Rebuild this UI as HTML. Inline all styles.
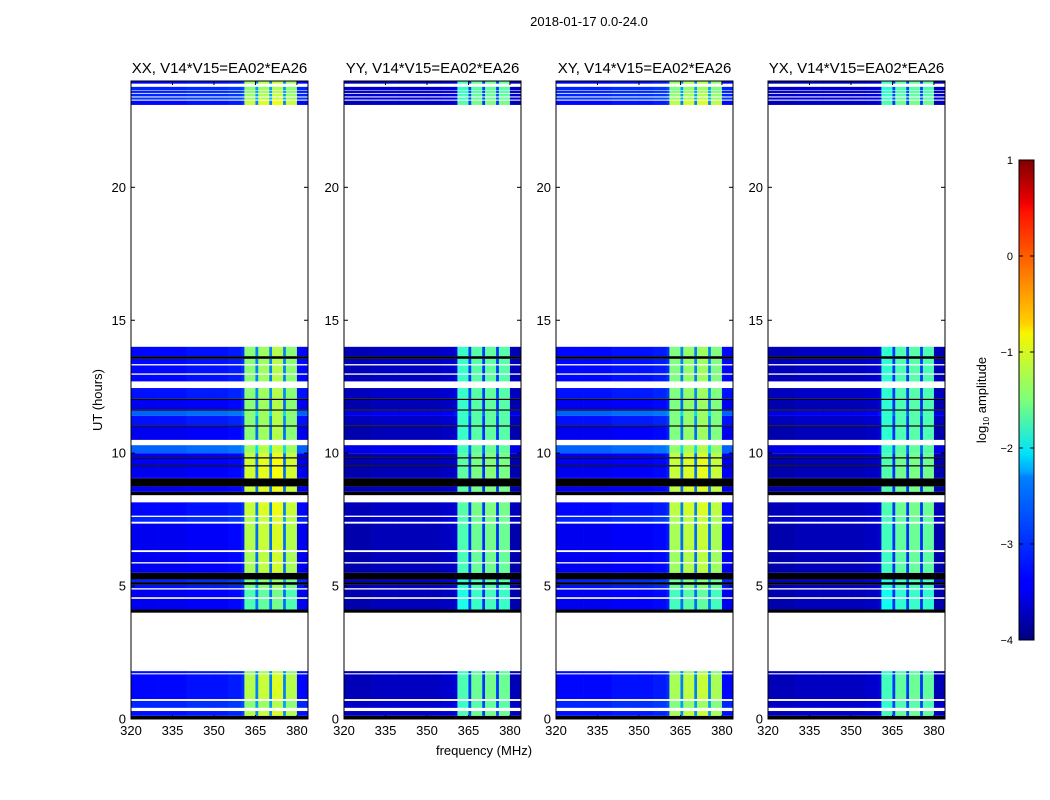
<!DOCTYPE html>
<html><head><meta charset="utf-8">
<style>
body{margin:0;background:#fff;}
svg{display:block;font-family:"Liberation Sans",sans-serif;}
</style></head>
<body>
<svg id="fig" width="1050" height="800" viewBox="0 0 1050 800" xmlns="http://www.w3.org/2000/svg">
<rect width="1050" height="800" fill="#fff"/>
<text x="589" y="26" font-size="13" text-anchor="middle">2018-01-17 0.0-24.0</text>
<g id="panels"></g>
<text x="102" y="400" font-size="13" text-anchor="middle" transform="rotate(-90 102 400)">UT (hours)</text>
<text x="484" y="755" font-size="13" text-anchor="middle">frequency (MHz)</text>
<defs>
<linearGradient id="jet" x1="0" y1="1" x2="0" y2="0">
<stop offset="0" stop-color="#00007f"/>
<stop offset="0.11" stop-color="#0000ff"/>
<stop offset="0.125" stop-color="#0000ff"/>
<stop offset="0.34" stop-color="#0080ff"/>
<stop offset="0.35" stop-color="#00a4ff"/>
<stop offset="0.39" stop-color="#00e4f8"/>
<stop offset="0.5" stop-color="#7dff7a"/>
<stop offset="0.64" stop-color="#f8f500"/>
<stop offset="0.66" stop-color="#ffd000"/>
<stop offset="0.89" stop-color="#ff1300"/>
<stop offset="0.91" stop-color="#f00000"/>
<stop offset="1" stop-color="#7f0000"/>
</linearGradient>
</defs>
<g>
<rect x="1019" y="160" width="15" height="480" fill="url(#jet)" stroke="#000" stroke-width="1"/>
<g id="cbticks" font-size="11" text-anchor="end"></g>
<text x="986" y="400" font-size="13" text-anchor="middle" transform="rotate(-90 986 400)">log<tspan font-size="8" dy="3">10</tspan><tspan dy="-3"> amplitude</tspan></text>
</g>
</svg>
<script>
// ---- data ----
const panelTitles = ["XX, V14*V15=EA02*EA26","YY, V14*V15=EA02*EA26","XY, V14*V15=EA02*EA26","YX, V14*V15=EA02*EA26"];
const channelStart = [320,330,340,350,355,360,361,365,366,370,371,375,376,380];
const channelEnd   = [330,340,350,355,360,361,365,366,370,371,375,376,380,384];
const specXX = [-3.5,-3.5,-3.45,-3.45,-3.4,-3.3,-1.45,-2.9,-1.35,-2.9,-1.25,-2.9,-1.45,-3.5];
const specYY = [-3.8,-3.75,-3.75,-3.75,-3.7,-3.6,-1.85,-3.2,-1.7,-3.2,-1.65,-3.2,-1.7,-3.8];
const specXY = [-3.5,-3.5,-3.45,-3.45,-3.4,-3.3,-1.5,-2.9,-1.4,-2.9,-1.35,-2.9,-1.5,-3.5];
const specYX = [-3.8,-3.75,-3.75,-3.75,-3.7,-3.6,-1.9,-3.2,-1.75,-3.2,-1.7,-3.2,-1.75,-3.8];
const spectra = [specXX,specYY,specXY,specYX];
// time segments: start hour, end hour, kind (d=data,f=flagged black), bright offset, background offset
const segStart = [0.0,0.12,0.42,0.75,1.72, 4.0,4.12,4.58,4.92,5.05,5.15,5.25,5.5,5.9,6.35,7.42,7.65,8.42,8.55,8.75,9.05,9.1,9.5,9.55,9.8,9.85,10.0,10.5,11.0,11.05,11.4,11.6,11.65,12.0,12.05,12.7,13.0,13.35,13.55,13.65, 23.1,23.3,23.42,23.55,23.66,23.9];
const segEnd   = [0.12,0.3,0.68,1.68,1.8, 4.12,4.52,4.87,5.05,5.15,5.25,5.5,5.85,6.28,7.35,7.6,8.15,8.55,8.75,9.05,9.1,9.5,9.55,9.8,9.85,10.0,10.3,11.0,11.05,11.4,11.6,11.65,12.0,12.05,12.45,12.95,13.3,13.55,13.65,14.0, 23.26,23.38,23.52,23.64,23.78,24.0];
const segKind  = ["f","d","d","d","d", "f","d","d","d","f","d","f","d","d","d","d","d","f","d","f","d","d","f","d","f","d","d","d","f","d","d","f","d","f","d","d","d","d","f","d", "d","d","d","d","d","d"];
const segBright= [0,0.2,0.0,0.2,0, 0,-0.3,-0.3,-0.1,0,-0.1,0,0.15,0.15,0.2,0.2,0.3,0,0.3,0,0.35,0.35,0,0.35,0,0.3,0.1,0,0,0,0,0,0,0,0,0,0,0,0,0, 0.3,0.1,0.1,0,0,0.1];
const segBg    = [0,0.2,0.3,0.15,0.2, 0,0.05,0.05,0.2,0,0.3,0,0.05,0.05,0.05,0.3,0.15,0,0.05,0,0.05,0.05,0,0.05,0,0.05,0.6,0.05,0,0.2,0.6,0,0.05,0,0.2,0.15,0.15,0.15,0,0.15, 0.15,0.4,0.3,0.3,0.3,0.15];
const yTicks = [0,5,10,15,20];
const xTicks = [320,335,350,365,380];
const cbTicks = [1,0,-1,-2,-3,-4];
// ---- geometry ----
const lefts=[131,344,556,768], W=177, T=81, B=719;
const NS="http://www.w3.org/2000/svg";
function yS(h){return B-(h/24)*(B-T);}
function xS(f,l){return l+(f-320)*W/64;}
function jet(v){
  let t=(v+4)/5; t=Math.max(0,Math.min(1,t));
  function c(x){return Math.max(0,Math.min(1,x));}
  const r=c(Math.min(4*t-1.5,-4*t+4.5)), g=c(Math.min(4*t-0.5,-4*t+3.5)), b=c(Math.min(4*t+0.5,-4*t+2.5));
  return `rgb(${Math.round(r*255)},${Math.round(g*255)},${Math.round(b*255)})`;
}
function mk(tag,attrs,parent){const e=document.createElementNS(NS,tag);for(const k in attrs)e.setAttribute(k,attrs[k]);parent.appendChild(e);return e;}
const root=document.getElementById('panels');
lefts.forEach((l,p)=>{
  const g=mk('g',{},root);
  
  
  const spec=spectra[p];
  for(let s=0;s<segStart.length;s++){
    const y0=yS(segEnd[s]), y1=yS(segStart[s]);
    if(segKind[s]==='f'){
      const r=mk('rect',{x:l,y:y0,width:W,height:Math.max(1,y1-y0),fill:'#000'},g);
      
      
      continue;
    }
    for(let c=0;c<channelStart.length;c++){
      const bright=spec[c]>-2.8;
      const v=spec[c]+(bright?segBright[s]*(p%2?0.5:1):segBg[s]*(p%2?0.5:1));
      const x0=xS(channelStart[c],l), x1=xS(channelEnd[c],l);
      const r=mk('rect',{x:x0,y:y0,width:x1-x0+0.3,height:y1-y0,fill:jet(v)},g);
      
      
    }
  }
  const fr=mk('rect',{x:l,y:T,width:W,height:B-T,fill:'none',stroke:'#000','stroke-width':1},g);
  
  
  const tt=mk('text',{x:l+W/2,y:73,'font-size':15,'text-anchor':'middle'},g);
  tt.textContent=panelTitles[p];
  
  
  yTicks.forEach(h=>{
    const y=yS(h);
    mk('line',{x1:l,x2:l+4,y1:y,y2:y,stroke:'#000'},g);
    mk('line',{x1:l+W,x2:l+W-4,y1:y,y2:y,stroke:'#000'},g);
    const t=mk('text',{x:l-5,y:y+4.5,'font-size':13,'text-anchor':'end'},g);
    t.textContent=h;
    
    
  });
  xTicks.forEach(f=>{
    const x=xS(f,l);
    mk('line',{x1:x,x2:x,y1:B,y2:B-4,stroke:'#000'},g);
    mk('line',{x1:x,x2:x,y1:T,y2:T+4,stroke:'#000'},g);
    const t=mk('text',{x:x,y:B+16,'font-size':13,'text-anchor':'middle'},g);
    t.textContent=f;
    
    
  });
});
const cb=document.getElementById('cbticks');
cbTicks.forEach(v=>{
  const y=640-(v+4)*96;
  mk('line',{x1:1019,x2:1023,y1:y,y2:y,stroke:'#000'},cb);
  mk('line',{x1:1034,x2:1030,y1:y,y2:y,stroke:'#000'},cb);
  const t=mk('text',{x:1013,y:y+4},cb);
  t.textContent=v<0?'\u2212'+(-v):v;
  
  
});
</script>
</body></html>
